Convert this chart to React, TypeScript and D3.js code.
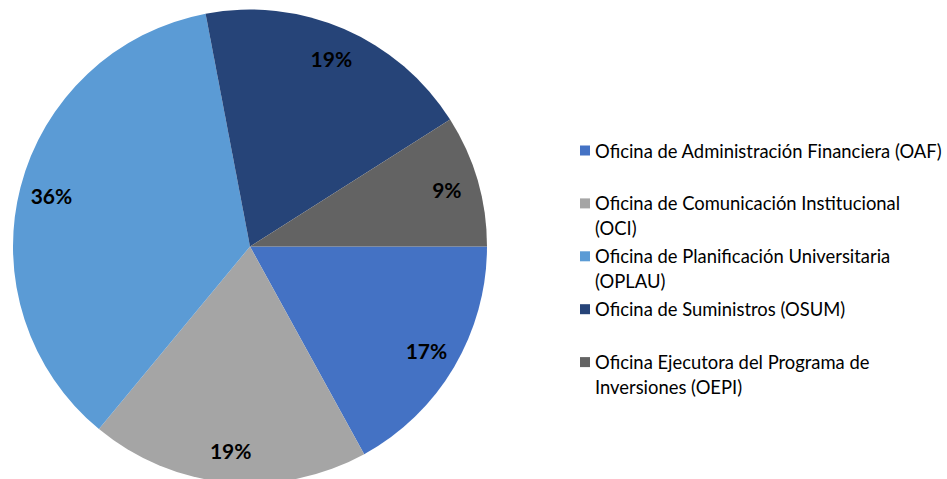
import React from "react";
import * as d3 from "d3";

const categories = [
  "Oficina de Administración Financiera (OAF)",
  "Oficina de Comunicación Institucional (OCI)",
  "Oficina de Planificación Universitaria (OPLAU)",
  "Oficina de Suministros (OSUM)",
  "Oficina Ejecutora del Programa de Inversiones (OEPI)",
];
const legendLines = [
  ["Oficina de Administración Financiera (OAF)"],
  ["Oficina de Comunicación Institucional", "(OCI)"],
  ["Oficina de Planificación Universitaria", "(OPLAU)"],
  ["Oficina de Suministros (OSUM)"],
  ["Oficina Ejecutora del Programa de", "Inversiones (OEPI)"],
];
const values = [17, 19, 36, 19, 9];
const colors = ["#4472C4", "#A5A5A5", "#5B9BD5", "#264478", "#636363"];

const W = 947;
const H = 479;

export default function App() {
  const cx = 250;
  const cy = 246.5;
  const r = 237;
  const labelR = 205;

  const pie = d3
    .pie<number>()
    .sort(null)
    .startAngle(Math.PI / 2)
    .endAngle(Math.PI / 2 + 2 * Math.PI)
    .value((d) => d);
  const arcs = pie(values);
  const arc = d3.arc<d3.PieArcDatum<number>>().innerRadius(0).outerRadius(r);
  const labelArc = d3
    .arc<d3.PieArcDatum<number>>()
    .innerRadius(labelR)
    .outerRadius(labelR);

  const total = d3.sum(values);
  const legendX = 580;
  const legendY0 = 150.5;
  const legendStep = 52.9;
  const lineH = 24.5;

  return (
    <svg
      width={W}
      height={H}
      style={{ position: "absolute", left: 0, top: 0, background: "#fff" }}
    >
      <g transform={`translate(${cx},${cy})`}>
        {arcs.map((a, i) => (
          <path key={categories[i]} d={arc(a) || ""} fill={colors[i]} />
        ))}
        {arcs.map((a, i) => {
          const [x, y] = labelArc.centroid(a);
          return (
            <text
              key={"l" + i}
              x={x}
              y={y}
              textAnchor="middle"
              dominantBaseline="central"
              fontFamily="Lato, 'Open Sans', sans-serif"
              fontWeight="bold"
              fontSize={21}
              fill="#000"
            >
              {Math.round((values[i] / total) * 100)}%
            </text>
          );
        })}
      </g>
      <g>
        {legendLines.map((lines, i) => {
          const y = legendY0 + i * legendStep;
          return (
            <g key={"lg" + i}>
              <rect
                x={legendX}
                y={y - 5}
                width={10}
                height={10}
                fill={colors[i]}
              />
              {lines.map((ln, j) => (
                <text
                  key={j}
                  x={legendX + 15}
                  y={y + j * lineH}
                  dominantBaseline="central"
                  fontFamily="Lato, 'Open Sans', sans-serif"
                  fontSize={18.4}
                  fill="#000"
                >
                  {ln}
                </text>
              ))}
            </g>
          );
        })}
      </g>
    </svg>
  );
}
